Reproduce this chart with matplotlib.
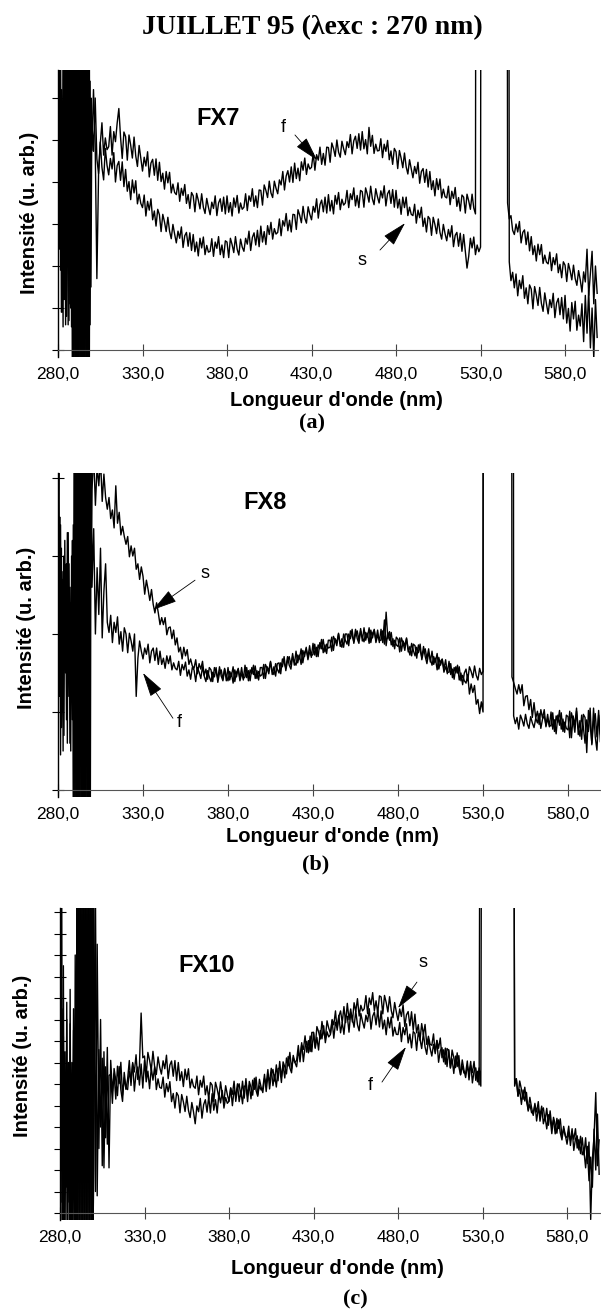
"""
Spectres d'émission de fluorescence, juillet 95 (excitation à 270 nm),
échantillons FX7, FX8 et FX10 (courbes f et s).
"""

import numpy as np
import matplotlib
matplotlib.use("Agg")
import matplotlib.pyplot as plt

plt.rcParams["font.family"] = ["Liberation Sans", "DejaVu Sans"]

W, H = 601, 1316

# longueurs d'onde (nm) : pas de 0,5 nm dans la zone bruitée du début, puis pas de 1 nm
wl_head = np.arange(280, 300, 0.5)
wl_body = np.arange(300, 600, 1)
wavelength = np.concatenate([wl_head, wl_body])

xtick_values = [280, 330, 380, 430, 480, 530, 580]
xtick_labels = ["280,0", "330,0", "380,0", "430,0", "480,0", "530,0", "580,0"]

# ---- FX7 ----
fx7_f_head = [8.0, 2.5, 8.0, 1.9, 6.2, 0.9, 8.0, 1.2, 5.5, 0.6,
              8.0, 2.0, 8.0, 0.7, 8.0, 1.0, 7.0, -1.0, 8.0, -1.0,
              8.0, -1.0, 8.0, -1.0, 8.0, -1.0, 8.0, -1.0, 8.0, -1.0,
              8.0, -1.0, 8.0, -1.0, 8.0, -1.0, 8.0, -1.0, 6.4, 1.5]
fx7_f_body = [
    5.45, 4.73, 6.0, 4.55, 4.2, 4.91, 5.41, 4.64, 5.05, 4.77,
    4.84, 5.32, 4.64, 5.2, 4.96, 5.4, 5.75, 5.07, 4.56, 5.19,
    5.08, 4.52, 5.12, 4.88, 4.57, 5.07, 4.62, 4.37, 4.87, 4.56,
    4.26, 4.59, 4.38, 4.72, 4.12, 4.45, 4.54, 4.16, 4.55, 4.04,
    4.47, 4.01, 4.21, 3.83, 4.25, 3.98, 4.23, 3.74, 3.95, 3.75,
    3.7, 3.98, 3.54, 3.85, 3.68, 3.94, 3.49, 3.7, 3.37, 3.75,
    3.67, 3.29, 3.73, 3.57, 3.36, 3.72, 3.4, 3.25, 3.61, 3.4,
    3.22, 3.52, 3.37, 3.67, 3.2, 3.5, 3.6, 3.3, 3.64, 3.24,
    3.67, 3.28, 3.51, 3.19, 3.62, 3.4, 3.68, 3.26, 3.5, 3.35,
    3.4, 3.72, 3.32, 3.67, 3.54, 3.84, 3.42, 3.67, 3.39, 3.81,
    3.8, 3.45, 3.93, 3.8, 3.63, 4.02, 3.74, 3.63, 4.02, 3.85,
    3.72, 4.05, 3.93, 4.25, 3.81, 4.14, 4.27, 4.0, 4.36, 3.99,
    4.45, 4.08, 4.33, 4.03, 4.48, 4.28, 4.57, 4.18, 4.43, 4.31,
    4.35, 4.68, 4.28, 4.65, 4.52, 4.83, 4.42, 4.68, 4.4, 4.83,
    4.82, 4.47, 4.93, 4.8, 4.61, 5.0, 4.71, 4.59, 4.97, 4.79,
    4.65, 4.96, 4.82, 5.13, 4.67, 4.98, 5.09, 4.8, 5.15, 4.76,
    5.2, 4.79, 5.01, 4.67, 5.3, 4.85, 5.11, 4.68, 4.9, 4.74,
    4.75, 5.03, 4.58, 4.9, 4.73, 4.99, 4.53, 4.74, 4.42, 4.8,
    4.72, 4.32, 4.75, 4.57, 4.34, 4.69, 4.36, 4.19, 4.53, 4.31,
    4.1, 4.37, 4.2, 4.47, 3.97, 4.25, 4.32, 3.99, 4.3, 3.88,
    4.25, 3.82, 4.03, 3.67, 4.08, 3.82, 4.07, 3.62, 3.83, 3.65,
    3.62, 3.9, 3.46, 3.78, 3.61, 3.87, 3.42, 3.63, 3.31, 3.69,
    3.64, 3.26, 3.71, 3.55, 3.35, 3.71, 3.38, 3.24, 40.0, 40.0,
    40.0, 40.0, 40.0, 40.0, 40.0, 40.0, 40.0, 40.0, 40.0, 40.0,
    40.0, 40.0, 40.0, 40.0, 40.0, 40.0, 3.5, 3.12, 3.2, 2.85,
    2.75, 3.0, 2.81, 3.06, 2.55, 2.8, 2.86, 2.51, 2.81, 2.36,
    2.7, 2.27, 2.48, 2.12, 2.52, 2.27, 2.51, 2.06, 2.26, 2.09,
    2.05, 2.33, 1.89, 2.2, 2.03, 2.29, 1.84, 2.04, 1.72, 2.1,
    2.02, 1.63, 2.06, 1.89, 1.67, 2.02, 1.7, 1.54, 1.89, 1.67,
    1.38, 1.86, 1.62, 2.4, 1.3, 1.82, 2.35, 1.1, 2.0, 1.35]
fx7_s_head = [3.0, 8.0, 2.4, 8.0, 0.9, 5.8, 0.55, 8.0, 1.4, 8.0,
              0.8, 8.0, 0.6, 8.0, 1.1, 8.0, 0.55, 8.0, -1.0, 8.0,
              -1.0, 8.0, -1.0, 8.0, -1.0, 8.0, -1.0, 8.0, -1.0, 8.0,
              -1.0, 8.0, -1.0, 8.0, -1.0, 8.0, -1.0, 8.0, 0.6, 6.0]
fx7_s_body = [
    4.75, 6.2, 4.9, 1.7, 4.2, 4.95, 4.35, 4.05, 4.8, 4.4,
    4.17, 4.56, 4.31, 4.7, 4.0, 4.39, 4.49, 4.04, 4.48, 3.89,
    4.3, 3.78, 4.01, 3.58, 4.05, 3.74, 4.03, 3.48, 3.71, 3.49,
    3.39, 3.69, 3.19, 3.54, 3.33, 3.6, 3.1, 3.31, 2.95, 3.35,
    3.22, 2.82, 3.23, 3.05, 2.82, 3.16, 2.83, 2.65, 2.99, 2.76,
    2.55, 2.83, 2.66, 2.93, 2.44, 2.72, 2.8, 2.47, 2.79, 2.37,
    2.75, 2.34, 2.57, 2.24, 2.66, 2.43, 2.69, 2.27, 2.49, 2.33,
    2.35, 2.65, 2.23, 2.57, 2.42, 2.7, 2.27, 2.5, 2.2, 2.6,
    2.57, 2.2, 2.66, 2.51, 2.32, 2.7, 2.4, 2.26, 2.64, 2.45,
    2.35, 2.66, 2.52, 2.83, 2.37, 2.68, 2.79, 2.5, 2.85, 2.46,
    2.95, 2.57, 2.82, 2.51, 2.96, 2.75, 3.04, 2.64, 2.89, 2.76,
    2.8, 3.12, 2.72, 3.08, 2.95, 3.25, 2.84, 3.09, 2.81, 3.23,
    3.22, 2.87, 3.34, 3.21, 3.03, 3.42, 3.14, 3.02, 3.41, 3.23,
    3.1, 3.42, 3.28, 3.6, 3.14, 3.46, 3.57, 3.29, 3.64, 3.26,
    3.7, 3.31, 3.56, 3.24, 3.68, 3.47, 3.75, 3.34, 3.59, 3.45,
    3.5, 3.8, 3.39, 3.72, 3.58, 3.86, 3.43, 3.68, 3.39, 3.8,
    3.77, 3.4, 3.86, 3.71, 3.52, 3.9, 3.6, 3.46, 3.84, 3.65,
    3.5, 3.79, 3.62, 3.91, 3.43, 3.72, 3.8, 3.49, 3.82, 3.4,
    3.8, 3.38, 3.59, 3.23, 3.64, 3.39, 3.64, 3.2, 3.4, 3.23,
    3.2, 3.47, 3.02, 3.33, 3.15, 3.4, 2.94, 3.14, 2.81, 3.18,
    3.12, 2.73, 3.16, 2.99, 2.77, 3.12, 2.8, 2.64, 2.99, 2.77,
    2.6, 2.87, 2.69, 2.96, 2.46, 2.73, 2.8, 2.47, 2.78, 2.35,
    2.75, 2.35, 1.95, 2.23, 2.66, 2.43, 2.69, 2.27, 2.5, 2.34,
    2.45, 40.0, 40.0, 40.0, 40.0, 40.0, 40.0, 40.0, 40.0, 40.0,
    40.0, 40.0, 40.0, 40.0, 40.0, 40.0, 40.0, 2.1, 1.65, 1.85,
    1.48, 1.81, 1.29, 1.66, 1.46, 1.77, 1.23, 1.48, 1.1, 1.55,
    1.45, 0.98, 1.51, 1.31, 1.06, 1.49, 1.11, 0.92, 1.36, 1.1,
    0.86, 1.2, 1.01, 1.35, 0.77, 1.12, 1.23, 0.84, 1.25, 0.74,
    1.3, 0.64, 0.99, 0.45, 1.13, 0.74, 1.16, 0.47, 0.83, 0.57,
    1.1, 0.2, 1.3, 0.4, 1.45, 0.05, 1.0, -0.2, 1.2, 0.3]

# ---- FX8 ----
fx8_f_head = [3.0, 5.0, 1.2, 3.4, 0.8, 2.7, 0.5, 3.0, 1.6, 2.5,
              0.9, 3.3, 1.4, 2.9, 0.6, 2.4, 1.5, 3.2, -0.5, 5.0,
              -0.5, 5.0, -0.5, 5.0, -0.5, 5.0, -0.5, 5.0, -0.5, 5.0,
              -0.5, 5.0, -0.5, 5.0, -0.5, 5.0, -0.5, 5.0, -0.5, 5.0]
fx8_f_body = [
    2.6, 3.35, 2.0, 2.85, 2.25, 3.1, 1.95, 2.55, 2.9, 2.15,
    2.02, 2.24, 1.89, 2.15, 2.02, 2.22, 1.87, 2.03, 1.78, 2.08,
    2.0, 1.76, 2.01, 1.91, 1.78, 2.0, 1.2, 1.69, 1.91, 1.78,
    1.68, 1.82, 1.74, 1.87, 1.63, 1.78, 1.82, 1.66, 1.82, 1.61,
    1.78, 1.61, 1.69, 1.56, 1.72, 1.62, 1.72, 1.54, 1.63, 1.56,
    1.54, 1.65, 1.47, 1.61, 1.54, 1.64, 1.46, 1.54, 1.42, 1.57,
    1.54, 1.39, 1.57, 1.51, 1.43, 1.58, 1.46, 1.39, 1.53, 1.45,
    1.39, 1.51, 1.45, 1.57, 1.38, 1.5, 1.54, 1.42, 1.56, 1.4,
    1.57, 1.41, 1.5, 1.37, 1.54, 1.45, 1.56, 1.4, 1.49, 1.43,
    1.45, 1.57, 1.4, 1.54, 1.49, 1.6, 1.43, 1.53, 1.41, 1.57,
    1.57, 1.43, 1.61, 1.56, 1.49, 1.64, 1.53, 1.48, 1.62, 1.55,
    1.5, 1.63, 1.58, 1.71, 1.53, 1.66, 1.71, 1.6, 1.75, 1.6,
    1.78, 1.63, 1.73, 1.61, 1.79, 1.71, 1.83, 1.67, 1.77, 1.72,
    1.74, 1.87, 1.71, 1.86, 1.81, 1.93, 1.76, 1.86, 1.75, 1.92,
    1.92, 1.78, 1.97, 1.92, 1.85, 2.0, 1.88, 1.83, 2.0, 1.92,
    1.87, 2.0, 1.94, 2.06, 1.88, 2.0, 2.04, 1.92, 2.07, 1.91,
    2.08, 1.92, 2.01, 1.88, 2.05, 1.95, 2.06, 1.89, 1.98, 1.92,
    1.92, 2.04, 1.87, 2.28, 1.94, 2.03, 1.86, 1.94, 1.81, 1.96,
    1.93, 1.77, 1.95, 1.88, 1.79, 1.94, 1.81, 1.73, 1.88, 1.79,
    1.72, 1.83, 1.76, 1.87, 1.67, 1.78, 1.81, 1.68, 1.81, 1.64,
    1.78, 1.61, 1.69, 1.54, 1.7, 1.6, 1.67, 1.51, 1.58, 1.51,
    1.51, 1.62, 1.44, 1.57, 1.5, 1.6, 1.41, 1.5, 1.35, 1.5,
    1.55, 1.4, 1.58, 1.52, 1.44, 1.59, 1.47, 1.41, 1.56, 1.48,
    1.52, 40.0, 40.0, 40.0, 40.0, 40.0, 40.0, 40.0, 40.0, 40.0,
    40.0, 40.0, 40.0, 40.0, 40.0, 40.0, 40.0, 1.45, 1.38, 1.3,
    1.23, 1.35, 1.24, 1.35, 1.08, 1.2, 1.21, 1.03, 1.16, 0.93,
    1.12, 0.92, 1.01, 0.84, 1.03, 0.92, 1.03, 0.81, 0.91, 0.83,
    0.82, 0.99, 0.75, 0.95, 0.87, 1.02, 0.78, 0.91, 0.74, 0.96,
    0.94, 0.67, 0.99, 0.89, 0.74, 1.01, 0.8, 0.69, 0.96, 0.81,
    0.6, 0.9, 0.75, 1.05, 0.58, 0.88, 0.98, 0.68, 1.02, 0.62]
fx8_s_head = [5.0, 2.2, 3.5, 0.45, 3.1, 1.0, 2.8, 0.7, 3.2, 1.5,
              2.9, 0.6, 3.3, 1.2, 2.6, 0.5, 3.0, 0.9, 3.4, -0.5,
              5.0, -0.5, 5.0, -0.5, 5.0, -0.5, 5.0, -0.5, 5.0, -0.5,
              5.0, -0.5, 5.0, -0.5, 5.0, -0.5, 5.0, -0.5, 5.0, 3.2]
fx8_s_body = [
    3.85, 4.3, 3.65, 4.15, 3.9, 4.25, 3.7, 4.05, 3.75, 3.6,
    3.75, 3.48, 3.59, 3.36, 3.9, 3.42, 3.56, 3.27, 3.38, 3.25,
    3.15, 3.25, 2.99, 3.13, 3.0, 3.1, 2.83, 2.9, 2.7, 2.86,
    2.74, 2.51, 2.69, 2.57, 2.43, 2.57, 2.38, 2.27, 2.4, 2.27,
    2.12, 2.21, 2.12, 2.21, 1.99, 2.08, 2.09, 1.94, 2.05, 1.86,
    1.95, 1.77, 1.83, 1.68, 1.83, 1.72, 1.8, 1.61, 1.68, 1.59,
    1.56, 1.67, 1.49, 1.62, 1.55, 1.65, 1.47, 1.55, 1.42, 1.57,
    1.54, 1.39, 1.57, 1.51, 1.43, 1.58, 1.46, 1.4, 1.55, 1.47,
    1.4, 1.52, 1.46, 1.58, 1.39, 1.51, 1.55, 1.43, 1.57, 1.41,
    1.6, 1.44, 1.53, 1.4, 1.57, 1.48, 1.59, 1.43, 1.52, 1.46,
    1.48, 1.61, 1.43, 1.58, 1.53, 1.65, 1.48, 1.58, 1.46, 1.62,
    1.63, 1.49, 1.68, 1.63, 1.56, 1.71, 1.6, 1.55, 1.71, 1.64,
    1.6, 1.73, 1.68, 1.81, 1.63, 1.76, 1.81, 1.7, 1.85, 1.7,
    1.88, 1.73, 1.83, 1.71, 1.89, 1.81, 1.93, 1.77, 1.87, 1.82,
    1.83, 1.96, 1.79, 1.94, 1.89, 2.01, 1.84, 1.94, 1.83, 2.0,
    2.0, 1.85, 2.04, 1.98, 1.9, 2.06, 1.94, 1.88, 2.04, 1.96,
    1.9, 2.02, 1.96, 2.08, 1.89, 2.01, 2.05, 1.92, 2.05, 1.89,
    2.06, 1.89, 2.18, 1.85, 2.02, 1.92, 2.02, 1.84, 1.92, 1.86,
    1.84, 1.95, 1.78, 1.91, 1.85, 1.95, 1.77, 1.84, 1.72, 1.87,
    1.85, 1.69, 1.86, 1.79, 1.7, 1.84, 1.71, 1.62, 1.76, 1.68,
    1.6, 1.71, 1.64, 1.75, 1.55, 1.65, 1.68, 1.55, 1.67, 1.49,
    1.65, 1.48, 1.55, 1.42, 1.58, 1.5, 1.58, 1.4, 1.47, 1.4,
    1.37, 1.48, 1.23, 1.36, 1.25, 1.34, 1.1, 1.16, 0.98, 1.13,
    1.0, 40.0, 40.0, 40.0, 40.0, 40.0, 40.0, 40.0, 40.0, 40.0,
    40.0, 40.0, 40.0, 40.0, 40.0, 40.0, 40.0, 40.0, 0.95, 0.85,
    0.93, 0.78, 0.96, 0.9, 0.82, 0.97, 0.85, 0.79, 0.94, 0.86,
    0.8, 0.92, 0.86, 0.98, 0.79, 0.91, 0.95, 0.83, 0.97, 0.81,
    1.0, 0.78, 0.9, 0.72, 0.96, 0.83, 0.99, 0.75, 0.87, 0.79,
    0.77, 1.01, 0.67, 0.95, 0.83, 1.05, 0.71, 0.89, 0.65, 0.97,
    0.93, 0.48, 1.02, 0.84, 0.6, 1.05, 0.68, 0.51, 0.96, 0.72]

# ---- FX10 ----
fx10_f_head = [16.0, 0.5, 16.0, -1.0, 8.2, -1.0, 6.5, 1.2, 9.8, -1.0,
               7.0, 0.5, 10.4, -1.0, 6.0, -1.0, 8.5, -1.0, 7.5, -1.0,
               16.0, -1.0, 16.0, -1.0, 16.0, -1.0, 16.0, -1.0, 16.0, -1.0,
               16.0, -1.0, 16.0, -1.0, 16.0, -1.0, 16.0, -1.0, 16.0, -1.0]
fx10_f_body = [
    16.0, 1.0, 12.5, 3.0, 9.0, 2.2, 7.5, 3.5, 7.7, 2.1,
    7.1, 5.66, 6.47, 5.3, 6.83, 6.02, 7.01, 5.48, 6.29, 5.75,
    6.22, 7.09, 5.93, 6.95, 6.56, 7.36, 6.21, 6.87, 9.3, 7.22,
    7.3, 6.39, 7.47, 7.1, 6.63, 7.52, 6.8, 6.44, 7.26, 6.78,
    6.46, 7.08, 6.71, 7.34, 6.25, 6.88, 7.07, 6.36, 7.09, 6.16,
    7.0, 6.16, 6.57, 5.88, 6.69, 6.2, 6.71, 5.82, 6.23, 5.89,
    5.8, 6.37, 5.5, 6.17, 5.85, 6.37, 5.5, 5.92, 5.3, 6.07,
    5.95, 5.19, 6.08, 5.77, 5.36, 6.1, 5.49, 5.18, 5.92, 5.51,
    5.2, 5.81, 5.52, 6.13, 5.19, 5.8, 6.01, 5.42, 6.13, 5.34,
    6.25, 5.47, 5.94, 5.31, 6.18, 5.75, 6.32, 5.49, 5.91, 5.72,
    5.8, 6.45, 5.65, 6.39, 6.13, 6.73, 5.92, 6.42, 5.86, 6.71,
    6.75, 6.07, 7.03, 6.8, 6.47, 7.28, 6.75, 6.52, 7.33, 7.0,
    6.8, 7.47, 7.24, 7.92, 7.04, 7.71, 7.98, 7.45, 8.23, 7.5,
    8.4, 7.66, 8.17, 7.58, 8.49, 8.1, 8.71, 7.92, 8.43, 8.19,
    8.3, 8.94, 8.13, 8.87, 8.61, 9.19, 8.38, 8.87, 8.31, 9.15,
    9.15, 8.41, 9.32, 9.03, 8.64, 9.4, 8.76, 8.47, 9.28, 8.9,
    8.6, 9.2, 8.9, 9.5, 8.55, 9.15, 9.35, 8.75, 9.45, 8.65,
    9.4, 8.56, 8.97, 8.29, 9.1, 8.61, 9.12, 8.23, 8.64, 8.31,
    8.3, 8.86, 7.97, 8.63, 8.29, 8.8, 7.91, 8.32, 7.68, 8.44,
    8.35, 7.56, 8.42, 8.09, 7.65, 8.36, 7.72, 7.38, 8.09, 7.66,
    7.3, 7.84, 7.48, 8.02, 7.01, 7.55, 7.69, 7.03, 7.67, 6.81,
    7.6, 6.76, 7.17, 6.49, 7.3, 6.81, 7.32, 6.43, 6.84, 6.51,
    6.5, 7.07, 6.19, 6.86, 6.53, 7.05, 6.17, 6.59, 5.96, 40.0,
    40.0, 40.0, 40.0, 40.0, 40.0, 40.0, 40.0, 40.0, 40.0, 40.0,
    40.0, 40.0, 40.0, 40.0, 40.0, 40.0, 40.0, 40.0, 40.0, 6.2,
    6.23, 5.44, 6.14, 5.76, 5.29, 5.85, 5.19, 4.81, 5.38, 4.91,
    4.54, 5.02, 4.7, 5.18, 4.27, 4.76, 4.89, 4.28, 4.87, 4.08,
    4.75, 3.97, 4.33, 3.68, 4.4, 3.93, 4.38, 3.55, 3.91, 3.57,
    3.5, 4.04, 3.14, 3.78, 3.43, 3.92, 3.02, 3.41, 2.76, 3.5,
    2.7, 3.5, 2.3, 3.3, -0.3, 2.5, 3.6, 5.6, 2.2, 3.4]
fx10_s_head = [12.0, -1.0, 9.5, 2.0, 11.5, 0.5, 7.5, -1.0, 9.0, 1.5,
               6.2, -1.0, 8.8, 0.3, 7.0, 2.5, 9.5, -1.0, 12.0, -1.0,
               16.0, -1.0, 16.0, -1.0, 16.0, -1.0, 16.0, -1.0, 16.0, -1.0,
               16.0, -1.0, 16.0, -1.0, 16.0, -1.0, 16.0, -1.0, 16.0, -1.0]
fx10_s_body = [
    2.0, 14.5, 0.8, 7.6, 4.0, 7.2, 2.1, 6.8, 3.2, 6.4,
    6.45, 5.1, 6.72, 6.18, 5.46, 6.81, 5.73, 5.19, 6.54, 5.82,
    5.74, 6.58, 6.16, 7.0, 5.67, 6.51, 6.79, 5.95, 6.93, 5.81,
    7.1, 6.1, 6.6, 5.78, 6.76, 6.18, 6.8, 5.74, 6.24, 5.84,
    5.8, 6.32, 5.39, 6.02, 5.64, 6.11, 5.18, 5.56, 4.88, 5.6,
    5.45, 4.66, 5.51, 5.17, 4.72, 5.43, 4.78, 4.44, 5.14, 4.7,
    4.15, 4.98, 4.71, 5.33, 4.41, 5.04, 5.27, 4.69, 5.42, 4.65,
    5.55, 4.78, 5.27, 4.65, 5.53, 5.12, 5.7, 4.88, 5.37, 5.1,
    5.2, 5.82, 4.99, 5.72, 5.44, 6.01, 5.18, 5.66, 5.08, 5.9,
    5.9, 5.18, 6.12, 5.85, 5.48, 6.27, 5.7, 5.43, 6.22, 5.85,
    5.6, 6.26, 6.01, 6.67, 5.77, 6.43, 6.68, 6.14, 6.89, 6.15,
    7.05, 6.33, 6.86, 6.28, 7.21, 6.84, 7.47, 6.69, 7.22, 7.0,
    7.1, 7.79, 7.03, 7.82, 7.61, 8.24, 7.48, 8.02, 7.51, 8.4,
    8.4, 7.71, 8.67, 8.43, 8.09, 8.91, 8.37, 8.13, 8.94, 8.6,
    8.35, 9.0, 8.75, 9.4, 8.5, 9.15, 9.4, 8.85, 9.6, 8.85,
    9.75, 8.99, 9.49, 8.88, 9.78, 9.37, 9.97, 9.16, 9.66, 9.4,
    9.5, 10.11, 9.27, 10.0, 9.69, 10.25, 9.41, 9.87, 9.29, 10.1,
    10.05, 9.26, 10.12, 9.79, 9.35, 10.06, 9.42, 9.08, 9.79, 9.35,
    8.95, 9.49, 9.14, 9.68, 8.68, 9.22, 9.37, 8.71, 9.36, 8.5,
    9.25, 8.38, 8.76, 8.03, 8.81, 8.29, 8.77, 7.84, 8.22, 7.85,
    7.8, 8.33, 7.41, 8.03, 7.66, 8.14, 7.22, 7.59, 6.92, 7.65,
    7.55, 6.74, 7.58, 7.22, 6.76, 7.45, 6.79, 6.43, 7.12, 6.66,
    6.3, 6.85, 6.5, 7.05, 6.05, 6.6, 6.75, 6.1, 6.75, 5.9,
    40.0, 40.0, 40.0, 40.0, 40.0, 40.0, 40.0, 40.0, 40.0, 40.0,
    40.0, 40.0, 40.0, 40.0, 40.0, 40.0, 40.0, 40.0, 40.0, 5.9,
    6.25, 5.43, 5.74, 5.05, 5.72, 5.21, 5.61, 4.74, 5.05, 4.67,
    4.62, 5.1, 4.28, 4.86, 4.53, 4.97, 4.15, 4.5, 3.91, 4.57,
    4.43, 3.69, 4.45, 4.12, 3.71, 4.33, 3.73, 3.4, 4.03, 3.61,
    3.2, 3.74, 3.38, 3.92, 2.91, 3.45, 3.59, 2.93, 3.57, 2.71,
    2.9, 2.1, 3.1, 1.5, 2.6, 1.2, 3.9, 2.0, 4.6, 1.8]


def px_rect(left, top, right, bottom):
    return [left / W, 1 - bottom / H, (right - left) / W, (bottom - top) / H]


def fig_text(fig, x, y, s, **kw):
    fig.text(x / W, 1 - y / H, s, ha="center", va="center", **kw)


def draw_panel(ax, f_vals, s_vals, xlim, ylim, yticks):
    ax.plot(wavelength, f_vals, color="black", lw=1.0)
    ax.plot(wavelength, s_vals, color="black", lw=1.0)
    ax.set_xlim(*xlim)
    ax.set_ylim(*ylim)
    ax.spines[["top", "right"]].set_visible(False)
    ax.spines["bottom"].set_position(("data", 0))
    ax.spines["bottom"].set_color("#555555")
    ax.spines["bottom"].set_linewidth(0.8)
    ax.spines["left"].set_linewidth(1.0)
    ax.set_xticks(xtick_values, labels=xtick_labels)
    ax.set_yticks(yticks)
    ax.tick_params(axis="x", direction="inout", length=9, width=0.8,
                   pad=8, labelsize=12.5, color="#444444")
    ax.tick_params(axis="y", direction="inout", length=9, width=0.8,
                   labelleft=False)


def mark(ax, label, text_xy, tail, tip):
    ax.text(text_xy[0], text_xy[1], label, fontsize=13, ha="center", va="center")
    ax.annotate("", xy=tip, xytext=tail,
                arrowprops=dict(arrowstyle="-|>,head_length=1.1,head_width=0.3",
                                mutation_scale=14, lw=0.6, color="black",
                                shrinkA=0, shrinkB=0))


fig = plt.figure(figsize=(W / 100, H / 100), dpi=100)

fig_text(fig, 312, 28, "JUILLET 95 (λexc : 270 nm)", fontsize=20,
         fontweight="bold", family=["Liberation Serif", "DejaVu Serif"])

# (a) FX7
ax_a = fig.add_axes(px_rect(58, 70, 598, 357))
draw_panel(ax_a, fx7_f_head + fx7_f_body, fx7_s_head + fx7_s_body,
           (280, 599.5), (-7 / 42, 280 / 42), range(0, 7))
ax_a.text(374.7, 5.52, "FX7", fontsize=17, fontweight="bold", ha="center", va="center")
mark(ax_a, "f", (413.1, 5.29), (420.2, 5.12), (433.3, 4.52))
mark(ax_a, "s", (459.9, 2.14), (470.5, 2.38), (485.3, 3.02))

# (b) FX8
ax_b = fig.add_axes(px_rect(58, 473, 600, 797))
draw_panel(ax_b, fx8_f_head + fx8_f_body, fx8_s_head + fx8_s_body,
           (280, 598.8), (-7 / 78, 317 / 78), range(0, 5))
ax_b.text(401.8, 3.69, "FX8", fontsize=17, fontweight="bold", ha="center", va="center")
mark(ax_b, "s", (366.5, 2.78), (360.6, 2.69), (335.9, 2.31))
mark(ax_b, "f", (351.2, 0.87), (347.6, 0.92), (330.0, 1.50))

# (c) FX10
ax_c = fig.add_axes(px_rect(60, 908, 601, 1220))
draw_panel(ax_c, fx10_f_head + fx10_f_body, fx10_s_head + fx10_s_body,
           (280, 600.1), (-7 / 21.5, 305 / 21.5), range(0, 15))
ax_c.text(367.0, 11.53, "FX10", fontsize=17, fontweight="bold", ha="center", va="center")
mark(ax_c, "s", (494.8, 11.63), (491.2, 10.74), (480.0, 9.53))
mark(ax_c, "f", (463.4, 5.95), (470.5, 6.09), (484.7, 7.72))

# titres d'axes et repères de panneau
serif = ["Liberation Serif", "DejaVu Serif"]
for xl, yl, xp, yp, xy_lab, y_lab, tag in [
        (336, 401, 312, 423, 30, 213, "(a)"),
        (332, 837, 316, 864, 26, 628, "(b)"),
        (337, 1268, 355, 1299, 23, 1056, "(c)")]:
    fig_text(fig, xl, yl, "Longueur d'onde (nm)", fontsize=14.5, fontweight="bold")
    fig_text(fig, xp, yp, tag, fontsize=16, fontweight="bold", family=serif)
    fig_text(fig, xy_lab, y_lab, "Intensité (u. arb.)", fontsize=14.5,
             fontweight="bold", rotation=90)

fig.savefig("out.png", dpi=100)
